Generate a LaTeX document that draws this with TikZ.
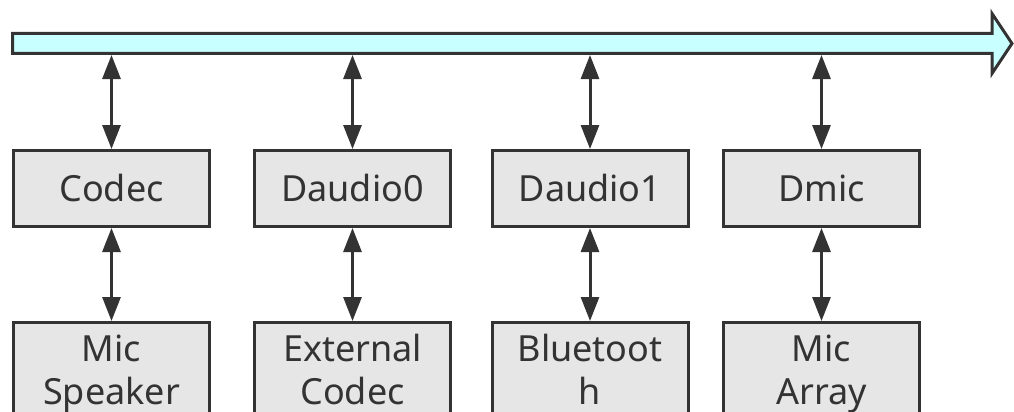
\documentclass[tikz,border=0pt]{standalone}
\usepackage{fontspec}
\setmainfont{Noto Sans}
\usetikzlibrary{arrows.meta}
\definecolor{ink}{HTML}{333333}
\definecolor{boxfill}{HTML}{E6E6E6}
\definecolor{busfill}{HTML}{C8FFFF}
\begin{document}
\begin{tikzpicture}[x=1pt,y=-1pt,
  unitbox/.style={draw=ink, fill=boxfill, line width=3pt, minimum width=196pt, minimum height=76pt,
    inner sep=0pt, text=ink, font=\fontsize{36}{43}\selectfont, text height=26.5pt, text depth=0pt},
  devbox/.style={draw=ink, fill=boxfill, line width=3pt, minimum width=196pt, minimum height=104pt,
    inner sep=0pt, text=ink, font=\fontsize{36}{43}\selectfont, align=center},
  link/.style={{Triangle[length=24pt,width=18pt]}-{Triangle[length=24pt,width=18pt]}, line width=3pt, draw=ink},
  busstyle/.style={draw=ink, fill=busfill, line width=3pt, line join=miter}
]
\useasboundingbox (0,0) rectangle (1014,412);
\clip (0,0) rectangle (1014,412);

% bus arrow
\draw[busstyle] (12.5,33.5) -- (992,33.5) -- (992,13.5) -- (1012,43.5) -- (992,73.5) -- (992,53.5) -- (12.5,53.5) -- cycle;
\coordinate (busb) at (0,55);

% upper row
\node[unitbox] (codec) at (111.5,188.5) {Codec};
\node[unitbox] (da0) at (352.5,188.5) {Daudio0};
\node[unitbox] (da1) at (590,188.5) {Daudio1};
\node[unitbox] (dmic) at (821.5,188.5) {Dmic};

% lower row
\node[devbox] (mic) at (111.5,374.5) {\strut Mic\\\strut Speaker};
\node[devbox] (ext) at (352.5,374.5) {\strut External\\\strut Codec};
\node[devbox] (bt) at (590,374.5) {\strut Bluetoot\\\strut h};
\node[devbox] (arr) at (821.5,374.5) {\strut Mic\\\strut Array};

% links to bus
\foreach \n in {codec,da0,da1,dmic}
  \draw[link] (\n.north) -- (\n.north |- busb);

% links between rows
\draw[link] (codec.south) -- (mic.north);
\draw[link] (da0.south) -- (ext.north);
\draw[link] (da1.south) -- (bt.north);
\draw[link] (dmic.south) -- (arr.north);
\end{tikzpicture}
\end{document}
